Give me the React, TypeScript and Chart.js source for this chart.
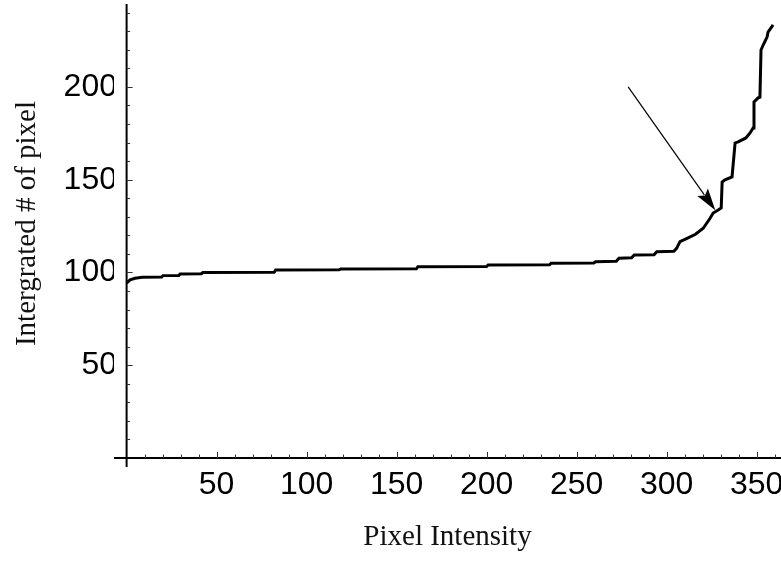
import React, { useEffect, useRef } from 'react';
import { Chart, registerables } from 'chart.js';

Chart.register(...registerables);

// Pixel intensity (x) and integrated number of pixels (y)
const intensity = [
  0, 1.9, 4.7, 8.6, 19.5, 20.2, 29, 29.7, 41.5, 42.4, 82, 82.8, 118, 119, 161, 161.8,
  200, 200.8, 235, 235.8, 259.5, 260.5, 272, 273.5, 280.5, 282, 293, 294.5, 304, 305.5,
  307.4, 311.3, 316, 320.3, 324.1, 325.8, 328.6, 330.3, 330.8, 332.4, 336.3, 338, 339.7,
  344, 346.3, 348, 348.5, 350.8, 351.8, 352.4, 353.6, 355.8, 356.3, 359.1,
];
const integrated = [
  94.3, 96.0, 96.9, 97.4, 97.5, 98.3, 98.4, 99.2, 99.3, 100.0, 100.1, 101.3, 101.4, 101.9, 102.0, 103.1,
  103.2, 104.0, 104.2, 105.0, 105.1, 105.8, 106.0, 107.7, 107.9, 109.4, 109.6, 111.2, 111.4, 113.0,
  116.6, 118.4, 120.6, 123.8, 129.2, 132.0, 133.7, 134.8, 148.8, 149.9, 151.5, 169.8, 170.4,
  172.5, 175.2, 177.9, 191.9, 194.1, 194.5, 219.9, 222.6, 227.0, 229.6, 233.4,
];

const xTickLabels = [50, 100, 150, 200, 250, 300, 350];
const yTickLabels = [50, 100, 150, 200];
const xMinorTicks = [10, 20, 30, 40, 60, 70, 80, 90, 110, 120, 130, 140, 160, 170, 180, 190, 210, 220, 230, 240, 260, 270, 280, 290, 310, 320, 330, 340, 360];
const yMinorTicks = [10, 20, 30, 40, 60, 70, 80, 90, 110, 120, 130, 140, 160, 170, 180, 190, 210, 220, 230, 240];

const xRange = [-7, 363.5];
const yRange = [-4.85, 244.7];

// annotation arrow (data coordinates): tail and tip
const arrowTail = [278.6, 200.0];
const arrowTip = [327.0, 133.5];

const xTitle = 'Pixel Intensity';
const yTitle = 'Intergrated # of pixel';

const axesPlugin = {
  id: 'mmaAxes',
  beforeDatasetsDraw(chart: any) {
    const { ctx, chartArea } = chart;
    const xs = chart.scales.x;
    const ys = chart.scales.y;
    const x0 = xs.getPixelForValue(0);
    const y0 = ys.getPixelForValue(0);
    ctx.save();
    ctx.strokeStyle = '#000';
    ctx.lineWidth = 2;
    ctx.beginPath();
    ctx.moveTo(x0, chartArea.top);
    ctx.lineTo(x0, chartArea.bottom);
    ctx.moveTo(chartArea.left, y0);
    ctx.lineTo(chartArea.right, y0);
    ctx.stroke();

    ctx.strokeStyle = '#333';
    ctx.lineWidth = 1;
    ctx.beginPath();
    for (const v of xTickLabels) {
      const p = Math.round(xs.getPixelForValue(v)) + 0.5;
      ctx.moveTo(p, y0);
      ctx.lineTo(p, y0 - 6);
    }
    for (const v of xMinorTicks) {
      const p = Math.round(xs.getPixelForValue(v)) + 0.5;
      ctx.moveTo(p, y0);
      ctx.lineTo(p, y0 - 3.5);
    }
    for (const v of yTickLabels) {
      const p = Math.round(ys.getPixelForValue(v)) + 0.5;
      ctx.moveTo(x0, p);
      ctx.lineTo(x0 + 6, p);
    }
    for (const v of yMinorTicks) {
      const p = Math.round(ys.getPixelForValue(v)) + 0.5;
      ctx.moveTo(x0, p);
      ctx.lineTo(x0 + 3.5, p);
    }
    ctx.stroke();

    // y axis title
    ctx.fillStyle = '#111';
    ctx.font = '29px "Liberation Serif", "Times New Roman", serif';
    ctx.textAlign = 'center';
    ctx.textBaseline = 'middle';
    ctx.translate(27, 223.5);
    ctx.rotate(-Math.PI / 2);
    ctx.fillText(yTitle, 0, 0);
    ctx.restore();
  },
  afterDatasetsDraw(chart: any) {
    const { ctx } = chart;
    const xs = chart.scales.x;
    const ys = chart.scales.y;
    const tx = xs.getPixelForValue(arrowTail[0]);
    const ty = ys.getPixelForValue(arrowTail[1]);
    const hx = xs.getPixelForValue(arrowTip[0]);
    const hy = ys.getPixelForValue(arrowTip[1]);
    const ang = Math.atan2(hy - ty, hx - tx);
    const headLen = 22;
    const headHalf = 6.5;
    const bx = hx - headLen * Math.cos(ang);
    const by = hy - headLen * Math.sin(ang);
    ctx.save();
    ctx.strokeStyle = '#000';
    ctx.lineWidth = 1.2;
    ctx.beginPath();
    ctx.moveTo(tx, ty);
    ctx.lineTo(bx + 3 * Math.cos(ang), by + 3 * Math.sin(ang));
    ctx.stroke();
    ctx.fillStyle = '#000';
    ctx.beginPath();
    ctx.moveTo(hx, hy);
    ctx.lineTo(bx + headHalf * Math.sin(ang), by - headHalf * Math.cos(ang));
    ctx.lineTo(bx + 4 * Math.cos(ang), by + 4 * Math.sin(ang));
    ctx.lineTo(bx - headHalf * Math.sin(ang), by + headHalf * Math.cos(ang));
    ctx.closePath();
    ctx.fill();
    ctx.restore();
  },
};

export default function App() {
  const canvasRef = useRef<HTMLCanvasElement | null>(null);

  useEffect(() => {
    const canvas = canvasRef.current;
    if (!canvas) return;
    const points = intensity.map((x, i) => ({ x, y: integrated[i] }));
    const chart = new Chart(canvas, {
      type: 'line',
      data: {
        datasets: [
          {
            data: points,
            borderColor: '#000',
            borderWidth: 3,
            pointRadius: 0,
            tension: 0,
            fill: false,
          },
        ],
      },
      options: {
        animation: false,
        responsive: false,
        devicePixelRatio: 1,
        layout: { padding: { top: 4, left: 0, right: 0, bottom: 0 } },
        plugins: {
          legend: { display: false },
          tooltip: { enabled: false },
        },
        scales: {
          x: {
            type: 'linear',
            min: xRange[0],
            max: xRange[1],
            border: { display: false },
            grid: { display: false, drawTicks: false },
            afterBuildTicks: (s: any) => {
              s.ticks = xTickLabels.map((v) => ({ value: v }));
            },
            afterFit: (s: any) => {
              s.height = 96;
              s.paddingLeft = 0;
              s.paddingRight = 0;
            },
            ticks: {
              autoSkip: false,
              maxRotation: 0,
              padding: -1,
              color: '#000',
              font: { family: '"Liberation Sans", Arial, sans-serif', size: 32 },
              callback: (v: any) => String(v),
            },
            title: {
              display: true,
              text: xTitle,
              color: '#111',
              font: { family: '"Liberation Serif", "Times New Roman", serif', size: 29 },
              padding: { top: 0, bottom: 8 },
            },
          },
          y: {
            type: 'linear',
            min: yRange[0],
            max: yRange[1],
            border: { display: false },
            grid: { display: false, drawTicks: false },
            afterBuildTicks: (s: any) => {
              s.ticks = yTickLabels.map((v) => ({ value: v }));
            },
            afterFit: (s: any) => {
              s.width = 114;
              s.paddingTop = 0;
              s.paddingBottom = 0;
            },
            ticks: {
              autoSkip: false,
              padding: -3,
              color: '#000',
              font: { family: '"Liberation Sans", Arial, sans-serif', size: 32 },
              callback: (v: any) => String(v),
            },
          },
        },
      },
      plugins: [axesPlugin],
    });
    return () => chart.destroy();
  }, []);

  return (
    <div style={{ position: 'absolute', left: 0, top: 0, width: 781, height: 563, background: '#fff' }}>
      <canvas ref={canvasRef} width={781} height={563} style={{ display: 'block' }} />
    </div>
  );
}
